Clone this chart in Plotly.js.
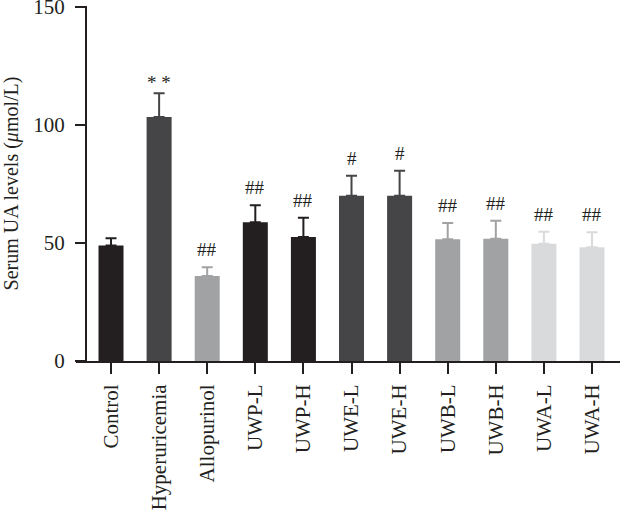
<!DOCTYPE html>
<html>
<head>
<meta charset="utf-8">
<script src="https://cdn.plot.ly/plotly-3.0.1.min.js"></script>
<style>html,body{margin:0;padding:0;background:#fff;}#chart{width:620px;height:515px;}</style>
</head>
<body>
<div id="chart"></div>
<script>
const categories = ["Control","Hyperuricemia","Allopurinol","UWP-L","UWP-H","UWE-L","UWE-H","UWB-L","UWB-H","UWA-L","UWA-H"];
const values = [48.9, 103.4, 36.0, 58.8, 52.5, 70.0, 70.0, 51.6, 51.8, 49.7, 48.2];
const errors = [3.1, 10.0, 3.7, 7.2, 8.2, 8.5, 10.6, 6.9, 7.6, 5.1, 6.3];
const marks = ["", "* *", "##", "##", "##", "#", "#", "##", "##", "##", "##"];
const colors = ["#231f20","#454547","#a0a2a4","#231f20","#231f20","#454547","#454547","#a0a2a4","#a0a2a4","#d9dadb","#d9dadb"];
const yTicks = [0, 50, 100, 150];

const font = "Liberation Serif, Times New Roman, serif";
const ink = "#231f20";

const traces = categories.map((c, i) => ({
  type: "bar",
  x: [c],
  y: [values[i]],
  width: 0.52,
  marker: {color: colors[i], line: {width: 0}},
  error_y: {type: "data", symmetric: false, array: [errors[i]], arrayminus: [0], color: colors[i], thickness: 2, width: 5.5},
  showlegend: false,
  hoverinfo: "skip"
}));

const annotations = categories.map((c, i) => ({
  x: c, y: values[i] + errors[i], xref: "x", yref: "y",
  text: marks[i], showarrow: false, yanchor: "bottom", yshift: marks[i].indexOf("*") >= 0 ? -2 : 5,
  font: {family: font, size: 19, color: ink}
})).filter(a => a.text);

const layout = {
  width: 620, height: 515,
  margin: {l: 76, r: 0, t: 6, b: 154},
  paper_bgcolor: "#fff", plot_bgcolor: "#fff",
  xaxis: {
    type: "category", categoryorder: "array", categoryarray: categories,
    range: [-0.728, 10.582],
    showline: true, linecolor: ink, linewidth: 2,
    ticks: "outside", ticklen: 11, tickwidth: 2, tickcolor: ink,
    tickangle: -90, tickfont: {family: font, size: 21, color: ink},
    ticklabelstandoff: 2,
    showgrid: false, zeroline: false, fixedrange: true
  },
  yaxis: {
    range: [0, 150.4], tickvals: yTicks, ticktext: yTicks.map(String),
    anchor: "free", position: 0.0184,
    showline: true, linecolor: ink, linewidth: 2,
    ticks: "outside", ticklen: 10, tickwidth: 2, tickcolor: ink,
    tickfont: {family: font, size: 21, color: ink},
    ticklabelstandoff: 6, ticklabeloverflow: "allow",
    title: {text: "Serum UA levels (<i>μ</i>mol/L)", font: {family: font, size: 20, color: ink}, standoff: 10},
    showgrid: false, zeroline: false, fixedrange: true
  },
  annotations: annotations
};

Plotly.newPlot("chart", traces, layout, {displayModeBar: false, staticPlot: true});
</script>
</body>
</html>
